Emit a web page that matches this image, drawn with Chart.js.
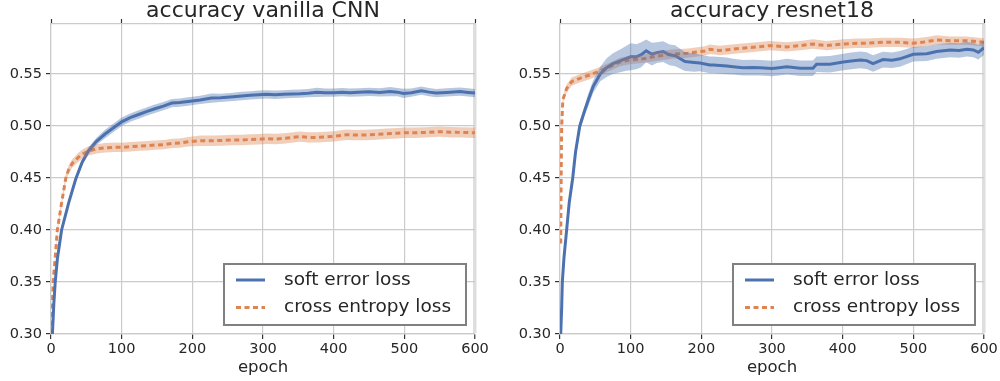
<!DOCTYPE html>
<html>
<head>
<meta charset="utf-8">
<script src="https://cdn.jsdelivr.net/npm/chart.js@4.4.0/dist/chart.umd.min.js"></script>
<style>
    html, body { margin: 0; padding: 0; background: #fff; }
    .panel { position: absolute; top: 0; width: 500px; height: 381px; }
    #left { left: 0; }
    #right { left: 500px; }
</style>
</head>
<body>
<div class="panel" id="left"><canvas id="chartLeft"></canvas></div>
<div class="panel" id="right"><canvas id="chartRight"></canvas></div>
<script>
const xTicks = [0, 100, 200, 300, 400, 500, 600];
const yTicks = [0.30, 0.35, 0.40, 0.45, 0.50, 0.55];
const seriesNames = ['soft error loss', 'cross entropy loss'];
const panelTitles = ['accuracy vanilla CNN', 'accuracy resnet18'];

// vanilla CNN - soft error loss
const cnnSoftEpoch = [2, 4, 6, 9, 15, 25, 35, 44, 53, 64, 76, 88, 100, 112, 124, 136, 147, 159, 171, 182,
    194, 211, 227, 240, 258, 270, 282, 294, 305, 317, 329, 340, 352, 364, 376, 388, 400, 412, 423, 435,
    450, 465, 480, 490, 499, 510, 524, 535, 545, 560, 579, 590, 600];
const cnnSoftAcc = [0.300, 0.329, 0.350, 0.372, 0.400, 0.426, 0.449, 0.465, 0.476, 0.485, 0.492, 0.498, 0.504, 0.508, 0.511, 0.514, 0.5165, 0.519, 0.522, 0.5225,
    0.5235, 0.525, 0.5268, 0.527, 0.528, 0.5288, 0.5294, 0.530, 0.5304, 0.530, 0.5304, 0.5308, 0.531, 0.5315, 0.5323, 0.532, 0.532, 0.5325, 0.532, 0.5323,
    0.5328, 0.5322, 0.533, 0.5325, 0.5313, 0.532, 0.5339, 0.5325, 0.5316, 0.5322, 0.533, 0.5322, 0.5316];
const cnnSoftBand = [0.001, 0.001, 0.0015, 0.002, 0.002, 0.0025, 0.003, 0.003, 0.0035, 0.0035, 0.004, 0.004, 0.004, 0.004, 0.004, 0.004, 0.004, 0.004, 0.004, 0.004,
    0.004, 0.004, 0.0045, 0.004, 0.004, 0.004, 0.004, 0.004, 0.004, 0.004, 0.004, 0.004, 0.004, 0.004, 0.0045, 0.004, 0.004, 0.004, 0.004, 0.004,
    0.004, 0.004, 0.0045, 0.004, 0.0045, 0.004, 0.004, 0.004, 0.004, 0.004, 0.004, 0.004, 0.004];

// vanilla CNN - cross entropy loss
const cnnCrossEpoch = [1, 3, 6, 9, 15, 21, 25, 30, 39, 45, 53, 65, 76, 90, 100, 112, 124, 136, 147, 160,
    171, 182, 194, 211, 227, 243, 258, 270, 282, 294, 305, 318, 329, 340, 352, 364, 376, 388, 400, 418,
    430, 444, 460, 475, 490, 500, 515, 530, 550, 565, 580, 600];
const cnnCrossAcc = [0.300, 0.350, 0.374, 0.400, 0.426, 0.450, 0.458, 0.464, 0.470, 0.473, 0.476, 0.478, 0.479, 0.4795, 0.4794, 0.480, 0.4806, 0.481, 0.4816, 0.482,
    0.4832, 0.4835, 0.4848, 0.4858, 0.4858, 0.486, 0.4865, 0.4865, 0.487, 0.4872, 0.4877, 0.4875, 0.488, 0.4888, 0.4897, 0.489, 0.489, 0.4895, 0.490, 0.4916,
    0.4912, 0.4913, 0.4918, 0.4925, 0.493, 0.4935, 0.4935, 0.4938, 0.4945, 0.494, 0.4938, 0.4935];
const cnnCrossBand = [0.001, 0.002, 0.002, 0.003, 0.003, 0.004, 0.004, 0.004, 0.0045, 0.0045, 0.0045, 0.0045, 0.0045, 0.0045, 0.0045, 0.0045, 0.0045, 0.0045, 0.0045, 0.0045,
    0.0045, 0.0045, 0.0045, 0.005, 0.005, 0.005, 0.005, 0.005, 0.005, 0.005, 0.005, 0.005, 0.005, 0.005, 0.005, 0.005, 0.005, 0.005, 0.005, 0.005,
    0.005, 0.005, 0.005, 0.005, 0.005, 0.005, 0.005, 0.005, 0.005, 0.005, 0.005, 0.005];

// resnet18 - soft error loss
const resSoftEpoch = [1, 2.4, 3.3, 5.7, 9.4, 13, 18, 22, 28, 35, 40, 47, 57, 66, 75, 85, 94, 100, 108, 115,
    122, 130, 137, 146, 155, 163, 177, 190, 198, 212, 217, 236, 245, 259, 273, 283, 300, 310, 321, 340,
    358, 363, 382, 401, 412, 425, 434, 443, 457, 470, 481, 500, 519, 533, 552, 565, 576, 585, 592, 600];
const resSoftAcc = [0.300, 0.326, 0.350, 0.374, 0.400, 0.426, 0.450, 0.475, 0.500, 0.515, 0.525, 0.538, 0.550, 0.556, 0.560, 0.5625, 0.565, 0.5665, 0.5665, 0.5685,
    0.5722, 0.569, 0.5705, 0.5715, 0.5683, 0.5675, 0.5619, 0.561, 0.5605, 0.5587, 0.5587, 0.5577, 0.557, 0.556, 0.5561, 0.556, 0.5552, 0.556, 0.557, 0.5555,
    0.5555, 0.5593, 0.5593, 0.5615, 0.5625, 0.5635, 0.5628, 0.560, 0.5638, 0.5632, 0.5645, 0.5689, 0.5695, 0.5715, 0.573, 0.5725, 0.5737, 0.573, 0.5708, 0.5752];
const resSoftBand = [0.001, 0.002, 0.002, 0.003, 0.003, 0.004, 0.004, 0.005, 0.005, 0.005, 0.006, 0.006, 0.007, 0.009, 0.010, 0.011, 0.012, 0.013, 0.012, 0.012,
    0.011, 0.011, 0.010, 0.010, 0.010, 0.010, 0.009, 0.009, 0.008, 0.008, 0.008, 0.008, 0.0075, 0.0075, 0.0075, 0.0075, 0.0075, 0.0075, 0.0075, 0.0075,
    0.0075, 0.0075, 0.008, 0.008, 0.008, 0.008, 0.008, 0.008, 0.0075, 0.0075, 0.0075, 0.007, 0.007, 0.007, 0.007, 0.007, 0.007, 0.007, 0.007, 0.007];

// resnet18 - cross entropy loss
const resCrossEpoch = [1, 1.5, 2, 2.4, 4, 9.4, 16.5, 28, 42, 57, 71, 85, 100, 117, 134, 158, 181, 205, 212, 226,
    250, 274, 297, 321, 340, 358, 377, 401, 420, 434, 457, 481, 500, 519, 533, 552, 576, 600];
const resCrossAcc = [0.387, 0.440, 0.480, 0.500, 0.525, 0.536, 0.5426, 0.5458, 0.549, 0.553, 0.557, 0.5615, 0.5635, 0.5645, 0.5667, 0.569, 0.570, 0.5721, 0.5737, 0.5725,
    0.5742, 0.5756, 0.5772, 0.576, 0.5772, 0.5788, 0.5772, 0.5788, 0.5795, 0.5795, 0.5804, 0.5804, 0.5795, 0.581, 0.5827, 0.582, 0.582, 0.5804];
const resCrossBand = [0.002, 0.002, 0.003, 0.003, 0.003, 0.004, 0.004, 0.004, 0.004, 0.004, 0.004, 0.004, 0.004, 0.004, 0.0045, 0.0045, 0.0045, 0.0045, 0.0045, 0.0045,
    0.0045, 0.0045, 0.0045, 0.0045, 0.0045, 0.0045, 0.0045, 0.0045, 0.0045, 0.0045, 0.0045, 0.0045, 0.0045, 0.0045, 0.0045, 0.004, 0.004, 0.004];

const BLUE = '#4c72b0';
const ORANGE = '#dd8452';
const TEXT = '#262626';
const GRID = '#cbcbcb';
const FONT = '"DejaVu Sans", sans-serif';

// title above the plot area + legend box in the lower right, like matplotlib
const panelDecor = {
    id: 'panelDecor',
    afterDraw(chart, args, opts) {
        const { ctx, chartArea: a } = chart;
        ctx.save();
        ctx.fillStyle = TEXT;
        ctx.font = '22px ' + FONT;
        ctx.textAlign = 'center';
        ctx.textBaseline = 'alphabetic';
        ctx.fillText(opts.title, (a.left + a.right) / 2, 17);

        const w = 242, h = 61;
        const x = a.right - 9 - w, y = a.bottom - 9 - h;
        ctx.fillStyle = '#fff';
        ctx.fillRect(x, y, w, h);
        ctx.strokeStyle = '#808080';
        ctx.lineWidth = 2;
        ctx.strokeRect(x, y, w, h);

        chart.data.datasets.filter(d => d.label).forEach((d, i) => {
            const cy = y + 16 + i * 27.5;
            ctx.beginPath();
            ctx.setLineDash(d.borderDash || []);
            ctx.strokeStyle = d.borderColor;
            ctx.lineWidth = 3;
            ctx.moveTo(x + 12, cy);
            ctx.lineTo(x + 41, cy);
            ctx.stroke();
            ctx.setLineDash([]);
            ctx.fillStyle = TEXT;
            ctx.font = '18.5px ' + FONT;
            ctx.textAlign = 'left';
            ctx.textBaseline = 'middle';
            ctx.fillText(d.label, x + 60, cy);
        });
        ctx.restore();
    }
};

function pts(ep, vals, band, sign) {
    return ep.map((e, i) => ({ x: e, y: vals[i] + sign * band[i] }));
}

function bandSets(ep, acc, band, fillColor) {
    return [
        { data: pts(ep, acc, band, -1), borderWidth: 0, pointRadius: 0, fill: false },
        { data: pts(ep, acc, band, 1), borderWidth: 0, pointRadius: 0, fill: '-1', backgroundColor: fillColor }
    ];
}

function makePanel(canvasId, title, soft, cross, yAxisWidth, padRight) {
    const datasets = [
        ...bandSets(soft.ep, soft.acc, soft.band, 'rgba(76, 114, 176, 0.4)'),
        ...bandSets(cross.ep, cross.acc, cross.band, 'rgba(221, 132, 82, 0.4)'),
        {
            label: seriesNames[0],
            data: pts(soft.ep, soft.acc, soft.band, 0),
            borderColor: BLUE, borderWidth: 3, pointRadius: 0, fill: false
        },
        {
            label: seriesNames[1],
            data: pts(cross.ep, cross.acc, cross.band, 0),
            borderColor: ORANGE, borderWidth: 3, borderDash: [5, 3.5], pointRadius: 0, fill: false
        }
    ];

    return new Chart(document.getElementById(canvasId), {
        type: 'line',
        data: { datasets },
        plugins: [panelDecor],
        options: {
            responsive: true,
            maintainAspectRatio: false,
            animation: false,
            events: [],
            layout: { padding: { top: 19, right: padRight, bottom: 0, left: 0 } },
            elements: { line: { tension: 0 } },
            plugins: {
                legend: { display: false },
                tooltip: { enabled: false },
                panelDecor: { title }
            },
            scales: {
                x: {
                    type: 'linear', position: 'bottom', min: 0, max: 600,
                    afterBuildTicks: s => { s.ticks = xTicks.map(v => ({ value: v })); },
                    afterFit: s => { s.height = 47; },
                    ticks: { color: TEXT, font: { family: FONT, size: 14.5 }, padding: 2, maxRotation: 0 },
                    grid: {
                        color: c => (c.tick && c.tick.value === 600) ? '#dedede' : GRID,
                        lineWidth: c => (c.tick && c.tick.value === 600) ? 3.5 : 1.2,
                        tickColor: '#333', tickLength: 5, tickWidth: 1.2
                    },
                    border: { color: GRID, width: 1.2 },
                    title: { display: true, text: 'epoch', color: TEXT, font: { family: FONT, size: 16.5 }, padding: { top: 0, bottom: 3 } }
                },
                xTop: {
                    type: 'linear', position: 'top', min: 0, max: 600,
                    afterBuildTicks: s => { s.ticks = xTicks.map(v => ({ value: v })); },
                    afterFit: s => { s.height = 5; },
                    ticks: { display: false },
                    grid: { drawOnChartArea: false, tickColor: '#333', tickLength: 5, tickWidth: 1.2 },
                    border: { color: GRID, width: 1.2 }
                },
                y: {
                    min: 0.30, max: 0.598,
                    afterBuildTicks: s => { s.ticks = yTicks.map(v => ({ value: v })); },
                    afterFit: s => { s.width = yAxisWidth; },
                    ticks: { color: TEXT, font: { family: FONT, size: 14.5 }, padding: 4, callback: v => v.toFixed(2) },
                    grid: { color: GRID, lineWidth: 1.2, tickColor: '#333', tickLength: 5, tickWidth: 1.2 },
                    border: { color: GRID, width: 1.2 }
                }
            }
        }
    });
}

makePanel('chartLeft', panelTitles[0],
    { ep: cnnSoftEpoch, acc: cnnSoftAcc, band: cnnSoftBand },
    { ep: cnnCrossEpoch, acc: cnnCrossAcc, band: cnnCrossBand },
    51, 25);

makePanel('chartRight', panelTitles[1],
    { ep: resSoftEpoch, acc: resSoftAcc, band: resSoftBand },
    { ep: resCrossEpoch, acc: resCrossAcc, band: resCrossBand },
    60, 16);
</script>
</body>
</html>
